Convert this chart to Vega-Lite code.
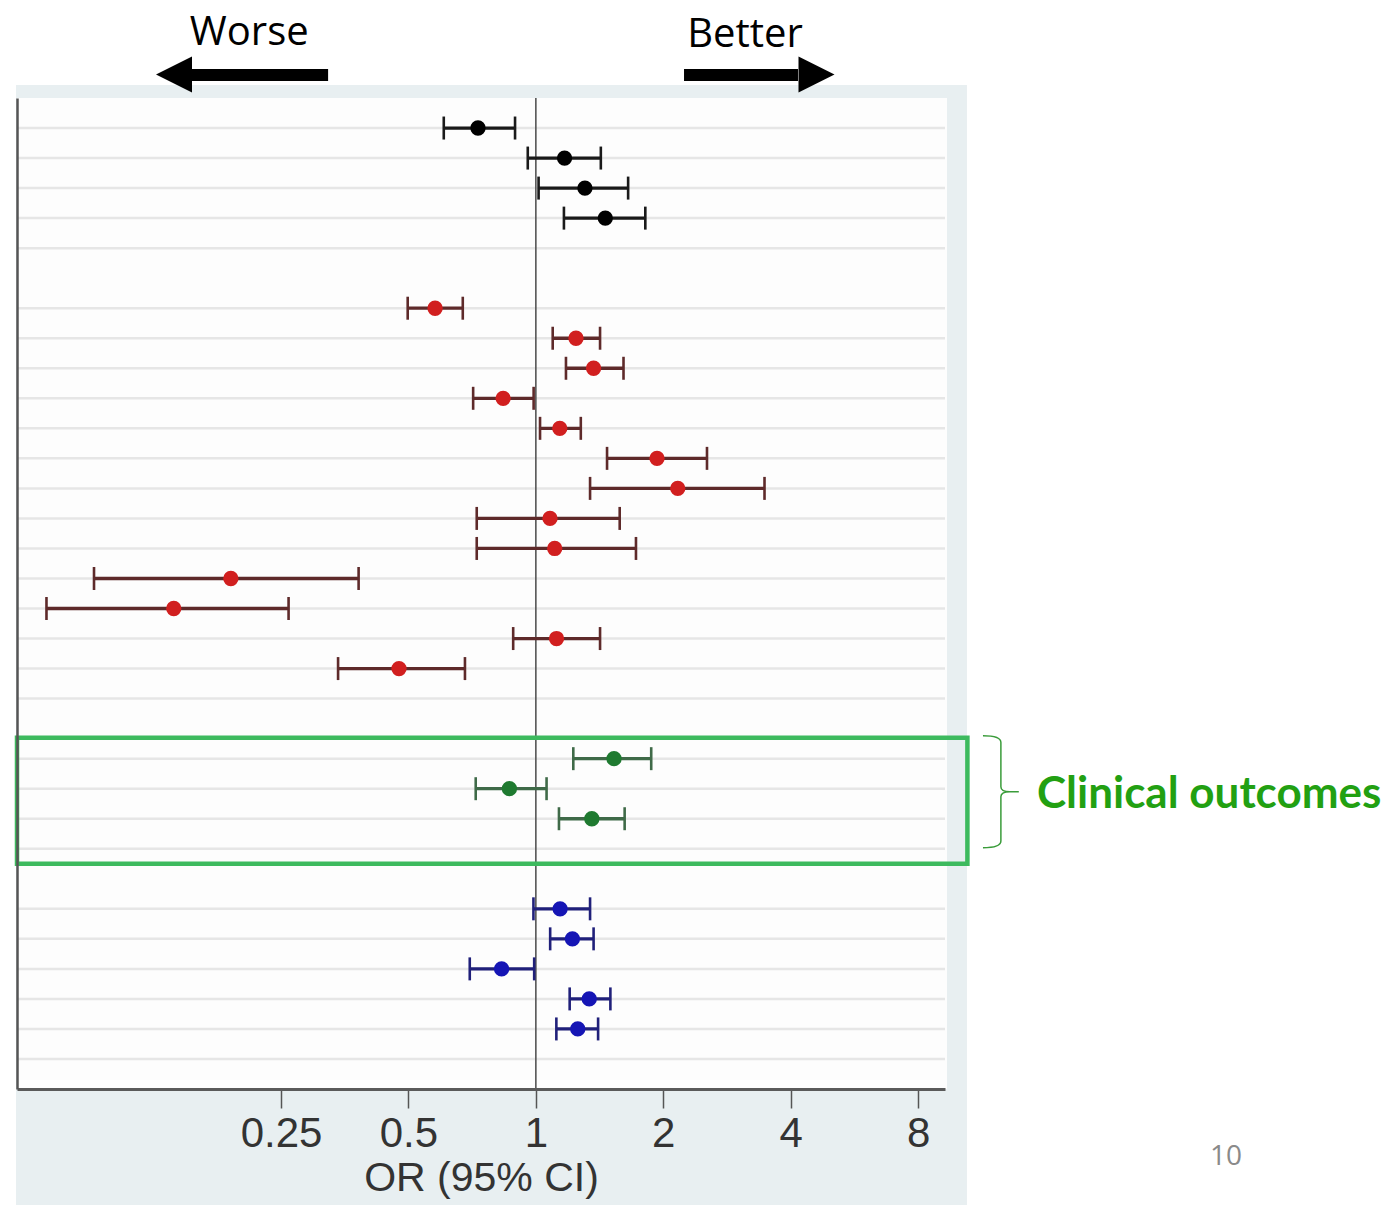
{
  "$schema": "https://vega.github.io/schema/vega-lite/v6.json",
  "width": 928,
  "height": 991,
  "autosize": {"type": "none"},
  "padding": {"left": 17, "top": 98, "right": 443, "bottom": 116},
  "background": "white",
  "config": {
    "view": {"stroke": null},
    "axisX": {
      "domainColor": "#5a5a5a", "domainWidth": 3,
      "tickColor": "#555", "tickWidth": 1.5, "tickSize": 19,
      "labelFont": "Liberation Sans", "labelFontSize": 42, "labelColor": "#333", "labelPadding": 5,
      "labelFlush": false, "labelOverlap": false,
      "titleFont": "Liberation Sans", "titleFontSize": 41, "titleFontWeight": "normal", "titleColor": "#333", "titlePadding": 4,
      "grid": false
    },
    "axisY": {
      "domain": true, "domainColor": "#555", "domainWidth": 2.5,
      "labels": false, "ticks": false, "grid": false
    }
  },
  "datasets": {
    "est": [
      {"row": 1, "or": 0.730, "lo": 0.606, "hi": 0.893, "g": "k"},
      {"row": 2, "or": 1.169, "lo": 0.957, "hi": 1.424, "g": "k"},
      {"row": 3, "or": 1.306, "lo": 1.015, "hi": 1.652, "g": "k"},
      {"row": 4, "or": 1.459, "lo": 1.165, "hi": 1.814, "g": "k"},
      {"row": 7, "or": 0.578, "lo": 0.498, "hi": 0.672, "g": "r"},
      {"row": 8, "or": 1.244, "lo": 1.096, "hi": 1.418, "g": "r"},
      {"row": 9, "or": 1.369, "lo": 1.178, "hi": 1.611, "g": "r"},
      {"row": 10, "or": 0.837, "lo": 0.711, "hi": 0.988, "g": "r"},
      {"row": 11, "or": 1.139, "lo": 1.023, "hi": 1.277, "g": "r"},
      {"row": 12, "or": 1.933, "lo": 1.473, "hi": 2.537, "g": "r"},
      {"row": 13, "or": 2.164, "lo": 1.343, "hi": 3.469, "g": "r"},
      {"row": 14, "or": 1.080, "lo": 0.725, "hi": 1.578, "g": "r"},
      {"row": 15, "or": 1.108, "lo": 0.725, "hi": 1.724, "g": "r"},
      {"row": 16, "or": 0.1903, "lo": 0.0904, "hi": 0.3813, "g": "r"},
      {"row": 17, "or": 0.1395, "lo": 0.0698, "hi": 0.2605, "g": "r"},
      {"row": 18, "or": 1.119, "lo": 0.884, "hi": 1.418, "g": "r"},
      {"row": 19, "or": 0.475, "lo": 0.341, "hi": 0.680, "g": "r"},
      {"row": 22, "or": 1.530, "lo": 1.226, "hi": 1.873, "g": "g"},
      {"row": 23, "or": 0.866, "lo": 0.721, "hi": 1.060, "g": "g"},
      {"row": 24, "or": 1.356, "lo": 1.134, "hi": 1.621, "g": "g"},
      {"row": 27, "or": 1.141, "lo": 0.987, "hi": 1.343, "g": "b"},
      {"row": 28, "or": 1.220, "lo": 1.081, "hi": 1.369, "g": "b"},
      {"row": 29, "or": 0.830, "lo": 0.698, "hi": 0.991, "g": "b"},
      {"row": 30, "or": 1.337, "lo": 1.202, "hi": 1.500, "g": "b"},
      {"row": 31, "or": 1.256, "lo": 1.118, "hi": 1.403, "g": "b"}
    ],
    "grid": [
      {"row": 1}, {"row": 2}, {"row": 3}, {"row": 4}, {"row": 5},
      {"row": 7}, {"row": 8}, {"row": 9}, {"row": 10}, {"row": 11}, {"row": 12}, {"row": 13},
      {"row": 14}, {"row": 15}, {"row": 16}, {"row": 17}, {"row": 18}, {"row": 19}, {"row": 20},
      {"row": 22}, {"row": 23}, {"row": 24}, {"row": 25},
      {"row": 27}, {"row": 28}, {"row": 29}, {"row": 30}, {"row": 31}, {"row": 32}
    ]
  },
  "layer": [
    {
      "data": {"values": [{"or": 0.05915, "or2": 10.435, "row": -0.433, "row2": 37}]},
      "mark": {"type": "rect", "fill": "#e8eff1", "clip": false},
      "encoding": {
        "x": {"field": "or", "type": "quantitative", "scale": {"type": "log", "base": 2, "domain": [0.05946, 9.26], "nice": false, "zero": false}, "title": "OR (95% CI)", "axis": {"values": [0.25, 0.5, 1, 2, 4, 8], "labelExpr": "'' + datum.value", "zindex": 1}},
        "x2": {"field": "or2"},
        "y": {"field": "row", "type": "quantitative", "scale": {"domain": [0, 33], "reverse": true, "nice": false, "zero": false}, "title": null, "axis": {"zindex": 1}},
        "y2": {"field": "row2"}
      }
    },
    {
      "data": {"values": [{"or": 0.05946, "or2": 9.36, "row": 0, "row2": 33}]},
      "mark": {"type": "rect", "fill": "#fdfdfd", "clip": false},
      "encoding": {
        "x": {"field": "or", "type": "quantitative", "scale": {"type": "log", "base": 2, "domain": [0.05946, 9.26], "nice": false, "zero": false}, "title": "OR (95% CI)", "axis": {"values": [0.25, 0.5, 1, 2, 4, 8], "labelExpr": "'' + datum.value", "zindex": 1}},
        "x2": {"field": "or2"},
        "y": {"field": "row", "type": "quantitative", "scale": {"domain": [0, 33], "reverse": true, "nice": false, "zero": false}, "title": null, "axis": {"zindex": 1}},
        "y2": {"field": "row2"}
      }
    },
    {
      "data": {"name": "grid"},
      "mark": {"type": "rule", "stroke": "#e6e6e6", "strokeWidth": 2.5, "clip": false},
      "encoding": {
        "y": {"field": "row", "type": "quantitative", "scale": {"domain": [0, 33], "reverse": true, "nice": false, "zero": false}, "title": null, "axis": {"zindex": 1}}
      }
    },
    {
      "data": {"values": [{"or": 1}]},
      "mark": {"type": "rule", "stroke": "#555555", "strokeWidth": 1.6, "clip": false},
      "encoding": {
        "x": {"field": "or", "type": "quantitative", "scale": {"type": "log", "base": 2, "domain": [0.05946, 9.26], "nice": false, "zero": false}, "title": "OR (95% CI)", "axis": {"values": [0.25, 0.5, 1, 2, 4, 8], "labelExpr": "'' + datum.value", "zindex": 1}}
      }
    },
    {
      "data": {"name": "est"},
      "mark": {"type": "rule", "strokeWidth": 3.3, "opacity": 1, "clip": false},
      "encoding": {
        "x": {"field": "lo", "type": "quantitative", "scale": {"type": "log", "base": 2, "domain": [0.05946, 9.26], "nice": false, "zero": false}, "title": "OR (95% CI)", "axis": {"values": [0.25, 0.5, 1, 2, 4, 8], "labelExpr": "'' + datum.value", "zindex": 1}},
        "x2": {"field": "hi"},
        "y": {"field": "row", "type": "quantitative", "scale": {"domain": [0, 33], "reverse": true, "nice": false, "zero": false}, "title": null, "axis": {"zindex": 1}},
        "stroke": {"field": "g", "type": "nominal", "scale": {"domain": ["k", "r", "g", "b"], "range": ["#1a1a1a", "#5e2a2a", "#3f6a48", "#20207a"]}, "legend": null}
      }
    },
    {
      "data": {"name": "est"},
      "mark": {"type": "tick", "orient": "vertical", "size": 23, "thickness": 2.6, "opacity": 1, "clip": false},
      "encoding": {
        "x": {"field": "lo", "type": "quantitative", "scale": {"type": "log", "base": 2, "domain": [0.05946, 9.26], "nice": false, "zero": false}, "title": "OR (95% CI)", "axis": {"values": [0.25, 0.5, 1, 2, 4, 8], "labelExpr": "'' + datum.value", "zindex": 1}},
        "y": {"field": "row", "type": "quantitative", "scale": {"domain": [0, 33], "reverse": true, "nice": false, "zero": false}, "title": null, "axis": {"zindex": 1}},
        "color": {"field": "g", "type": "nominal", "scale": {"domain": ["k", "r", "g", "b"], "range": ["#1a1a1a", "#5e2a2a", "#3f6a48", "#20207a"]}, "legend": null}
      }
    },
    {
      "data": {"name": "est"},
      "mark": {"type": "tick", "orient": "vertical", "size": 23, "thickness": 2.6, "opacity": 1, "clip": false},
      "encoding": {
        "x": {"field": "hi", "type": "quantitative", "scale": {"type": "log", "base": 2, "domain": [0.05946, 9.26], "nice": false, "zero": false}, "title": "OR (95% CI)", "axis": {"values": [0.25, 0.5, 1, 2, 4, 8], "labelExpr": "'' + datum.value", "zindex": 1}},
        "y": {"field": "row", "type": "quantitative", "scale": {"domain": [0, 33], "reverse": true, "nice": false, "zero": false}, "title": null, "axis": {"zindex": 1}},
        "color": {"field": "g", "type": "nominal", "scale": {"domain": ["k", "r", "g", "b"], "range": ["#1a1a1a", "#5e2a2a", "#3f6a48", "#20207a"]}, "legend": null}
      }
    },
    {
      "data": {"name": "est"},
      "mark": {"type": "point", "shape": "circle", "filled": true, "size": 235, "opacity": 1, "strokeWidth": 0, "clip": false},
      "encoding": {
        "x": {"field": "or", "type": "quantitative", "scale": {"type": "log", "base": 2, "domain": [0.05946, 9.26], "nice": false, "zero": false}, "title": "OR (95% CI)", "axis": {"values": [0.25, 0.5, 1, 2, 4, 8], "labelExpr": "'' + datum.value", "zindex": 1}},
        "y": {"field": "row", "type": "quantitative", "scale": {"domain": [0, 33], "reverse": true, "nice": false, "zero": false}, "title": null, "axis": {"zindex": 1}},
        "fill": {"field": "g", "type": "nominal", "scale": {"domain": ["k", "r", "g", "b"], "range": ["#000000", "#d11f1f", "#1f7a30", "#1515b5"]}, "legend": null}
      }
    },
    {
      "data": {"values": [{"or": 0.05946, "or2": 10.46, "row": 21.3, "row2": 25.5}]},
      "mark": {"type": "rect", "filled": false, "stroke": "#3dba5e", "strokeWidth": 4.5, "clip": false},
      "encoding": {
        "x": {"field": "or", "type": "quantitative", "scale": {"type": "log", "base": 2, "domain": [0.05946, 9.26], "nice": false, "zero": false}, "title": "OR (95% CI)", "axis": {"values": [0.25, 0.5, 1, 2, 4, 8], "labelExpr": "'' + datum.value", "zindex": 1}},
        "x2": {"field": "or2"},
        "y": {"field": "row", "type": "quantitative", "scale": {"domain": [0, 33], "reverse": true, "nice": false, "zero": false}, "title": null, "axis": {"zindex": 1}},
        "y2": {"field": "row2"}
      }
    },
    {
      "data": {"values": [{"or": 12.55, "row": 23.1}]},
      "mark": {"type": "point", "shape": "M-0.32,-1Q0,-1 0,-0.88L0,-0.09Q0,0 0.16,0L0.32,0M0.16,0Q0,0 0,0.09L0,0.88Q0,1 -0.32,1", "size": 12544, "filled": false, "stroke": "#3a9c3a", "strokeWidth": 1.5, "opacity": 1, "clip": false},
      "encoding": {
        "x": {"field": "or", "type": "quantitative", "scale": {"type": "log", "base": 2, "domain": [0.05946, 9.26], "nice": false, "zero": false}, "title": "OR (95% CI)", "axis": {"values": [0.25, 0.5, 1, 2, 4, 8], "labelExpr": "'' + datum.value", "zindex": 1}},
        "y": {"field": "row", "type": "quantitative", "scale": {"domain": [0, 33], "reverse": true, "nice": false, "zero": false}, "title": null, "axis": {"zindex": 1}}
      }
    },
    {
      "data": {"values": [{"or": 0.154, "or2": 0.323, "row": -0.77}, {"or": 2.239, "or2": 4.162, "row": -0.77}]},
      "mark": {"type": "rule", "stroke": "#000000", "strokeWidth": 12, "strokeCap": "butt", "clip": false},
      "encoding": {
        "x": {"field": "or", "type": "quantitative", "scale": {"type": "log", "base": 2, "domain": [0.05946, 9.26], "nice": false, "zero": false}, "title": "OR (95% CI)", "axis": {"values": [0.25, 0.5, 1, 2, 4, 8], "labelExpr": "'' + datum.value", "zindex": 1}},
        "x2": {"field": "or2"},
        "y": {"field": "row", "type": "quantitative", "scale": {"domain": [0, 33], "reverse": true, "nice": false, "zero": false}, "title": null, "axis": {"zindex": 1}}
      }
    },
    {
      "data": {"values": [{"or": 0.1397, "row": -0.78}]},
      "mark": {"type": "point", "shape": "M-1,0L1,-1L1,1Z", "size": 1296, "filled": true, "fill": "#000000", "strokeWidth": 0, "opacity": 1, "clip": false},
      "encoding": {
        "x": {"field": "or", "type": "quantitative", "scale": {"type": "log", "base": 2, "domain": [0.05946, 9.26], "nice": false, "zero": false}, "title": "OR (95% CI)", "axis": {"values": [0.25, 0.5, 1, 2, 4, 8], "labelExpr": "'' + datum.value", "zindex": 1}},
        "y": {"field": "row", "type": "quantitative", "scale": {"domain": [0, 33], "reverse": true, "nice": false, "zero": false}, "title": null, "axis": {"zindex": 1}}
      }
    },
    {
      "data": {"values": [{"or": 4.603, "row": -0.78}]},
      "mark": {"type": "point", "shape": "M1,0L-1,-1L-1,1Z", "size": 1296, "filled": true, "fill": "#000000", "strokeWidth": 0, "opacity": 1, "clip": false},
      "encoding": {
        "x": {"field": "or", "type": "quantitative", "scale": {"type": "log", "base": 2, "domain": [0.05946, 9.26], "nice": false, "zero": false}, "title": "OR (95% CI)", "axis": {"values": [0.25, 0.5, 1, 2, 4, 8], "labelExpr": "'' + datum.value", "zindex": 1}},
        "y": {"field": "row", "type": "quantitative", "scale": {"domain": [0, 33], "reverse": true, "nice": false, "zero": false}, "title": null, "axis": {"zindex": 1}}
      }
    },
    {
      "data": {"values": [{"or": 0.2104, "row": -1.77, "label": "Worse"}, {"or": 3.12, "row": -1.7, "label": "Better"}]},
      "mark": {"type": "text", "font": "Open Sans", "fontSize": 40, "fill": "#000000", "align": "center", "baseline": "alphabetic", "clip": false},
      "encoding": {
        "x": {"field": "or", "type": "quantitative", "scale": {"type": "log", "base": 2, "domain": [0.05946, 9.26], "nice": false, "zero": false}, "title": "OR (95% CI)", "axis": {"values": [0.25, 0.5, 1, 2, 4, 8], "labelExpr": "'' + datum.value", "zindex": 1}},
        "y": {"field": "row", "type": "quantitative", "scale": {"domain": [0, 33], "reverse": true, "nice": false, "zero": false}, "title": null, "axis": {"zindex": 1}},
        "text": {"field": "label", "type": "nominal"}
      }
    },
    {
      "data": {"values": [{"or": 15.27, "row": 23.63, "label": "Clinical outcomes"}]},
      "mark": {"type": "text", "font": "Lato", "fontWeight": "bold", "fontSize": 44, "fill": "#22a012", "align": "left", "baseline": "alphabetic", "clip": false},
      "encoding": {
        "x": {"field": "or", "type": "quantitative", "scale": {"type": "log", "base": 2, "domain": [0.05946, 9.26], "nice": false, "zero": false}, "title": "OR (95% CI)", "axis": {"values": [0.25, 0.5, 1, 2, 4, 8], "labelExpr": "'' + datum.value", "zindex": 1}},
        "y": {"field": "row", "type": "quantitative", "scale": {"domain": [0, 33], "reverse": true, "nice": false, "zero": false}, "title": null, "axis": {"zindex": 1}},
        "text": {"field": "label", "type": "nominal"}
      }
    },
    {
      "data": {"values": [{"or": 42.68, "row": 35.53, "label": "10"}]},
      "mark": {"type": "text", "font": "Open Sans", "fontSize": 28, "fill": "#8a8a8a", "align": "center", "baseline": "alphabetic", "clip": false},
      "encoding": {
        "x": {"field": "or", "type": "quantitative", "scale": {"type": "log", "base": 2, "domain": [0.05946, 9.26], "nice": false, "zero": false}, "title": "OR (95% CI)", "axis": {"values": [0.25, 0.5, 1, 2, 4, 8], "labelExpr": "'' + datum.value", "zindex": 1}},
        "y": {"field": "row", "type": "quantitative", "scale": {"domain": [0, 33], "reverse": true, "nice": false, "zero": false}, "title": null, "axis": {"zindex": 1}},
        "text": {"field": "label", "type": "nominal"}
      }
    }
  ]
}
